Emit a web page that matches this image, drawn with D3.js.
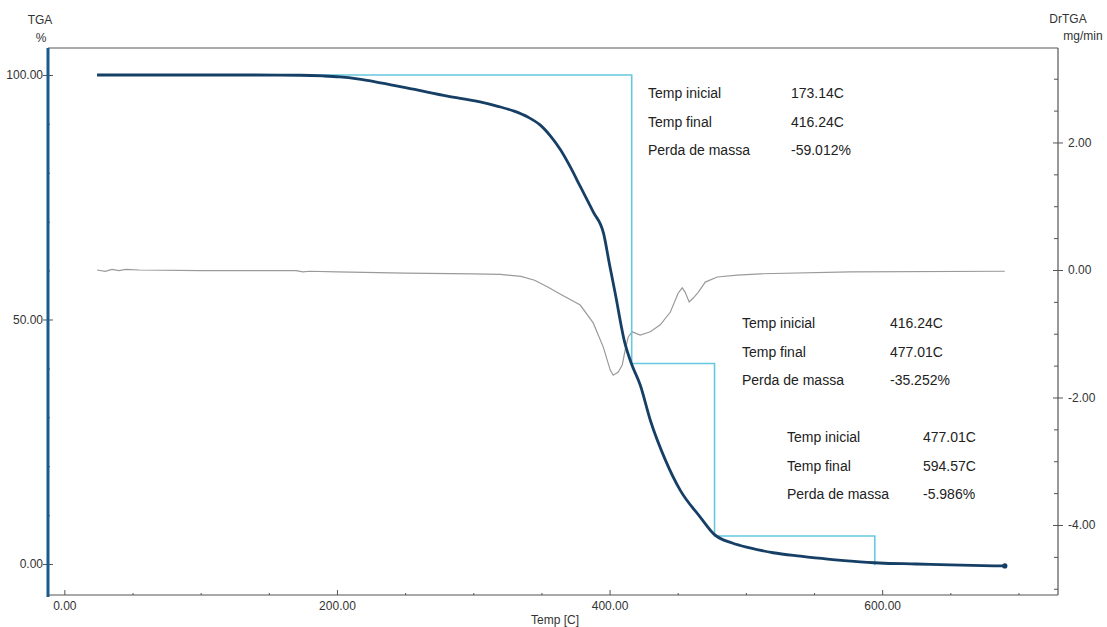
<!DOCTYPE html>
<html>
<head>
<meta charset="utf-8">
<script src="https://cdn.jsdelivr.net/npm/d3@7"></script>
<style>
  html, body { margin: 0; padding: 0; background: #fff; }
  svg { display: block; font-family: "Liberation Sans", Arial, sans-serif; }
</style>
</head>
<body>
<svg id="chart" width="1107" height="627"></svg>
<script>
// ---- TGA curve: temperature (°C) and residual mass (%) ----
const tgaTemp = [24, 60, 100, 140, 173, 190, 202, 215, 232, 256, 281, 305, 318, 330, 340,
                 349, 357, 364, 371, 378.5, 388, 395.6, 400, 404.1, 411.2, 416, 422.5, 429.9,
                 440.9, 451.8, 466.5, 477, 490, 503, 520, 540, 560, 577, 598, 625, 650, 690];
const tgaMass = [100, 100, 100, 100, 99.95, 99.8, 99.6, 99.2, 98.4, 97.1, 95.7, 94.5, 93.6, 92.6, 91.4,
                 89.8, 87.4, 84.7, 81.3, 77.2, 72.0, 67.6, 61.2, 55.4, 45.2, 41.0, 36.6, 29.4,
                 21.3, 15.1, 9.6, 6.0, 4.3, 3.3, 2.3, 1.6, 1.0, 0.6, 0.2, 0.0, -0.2, -0.4];

// ---- DrTGA curve: temperature (°C) and mass-loss rate (mg/min) ----
const drTemp = [24, 30, 35, 40, 45, 55, 100, 170, 175, 180, 200, 250, 300, 320, 335, 345, 355,
                364, 378.5, 388, 395.4, 400.5, 402.7, 406.4, 409.3, 411.5, 413.7, 416.6, 422.5,
                429.9, 437.2, 444.6, 450.4, 453.3, 455.5, 458.4, 461.4, 465, 470.2, 479, 493.7,
                510.5, 576.5, 690];
const drRate = [0.00, -0.02, 0.01, -0.01, 0.01, 0.00, -0.01, -0.01, -0.03, -0.02, -0.03, -0.05,
                -0.06, -0.07, -0.10, -0.16, -0.27, -0.38, -0.55, -0.83, -1.21, -1.57, -1.65,
                -1.60, -1.49, -1.25, -1.05, -0.97, -1.02, -0.97, -0.86, -0.66, -0.36, -0.28,
                -0.35, -0.50, -0.44, -0.35, -0.19, -0.11, -0.08, -0.06, -0.03, -0.02];

// ---- Mass-loss steps ----
const stepStart = [173.14, 416.24, 477.01];
const stepEnd   = [416.24, 477.01, 594.57];
const stepLoss  = [59.012, 35.252, 5.986];

// ---- Axis tick values ----
const xTickValues     = [0, 200, 400, 600];
const leftTickValues  = [0, 50, 100];
const rightTickValues = [-4, -2, 0, 2];

// ---- Layout ----
const plotLeft = 48, plotRight = 1058, plotTop = 48, plotBottom = 595;
const svg = d3.select("#chart");
// plain hyphen-minus for negative numbers
const fmt2 = d => (+d).toFixed(2);
const fmt3 = d => (+d).toFixed(3);

const x  = d3.scaleLinear().domain([-12, 729]).range([plotLeft, plotRight]);
const yL = d3.scaleLinear().domain([-6.34, 105.52]).range([plotBottom, plotTop]);
const yR = d3.scaleLinear().domain([-5.098, 3.482]).range([plotBottom, plotTop]);

const axisColor = "#555";
const labelColor = "#333";

function styleAxis(g, fontSize) {
  g.selectAll("path.domain").remove();
  g.selectAll(".tick line").attr("stroke", axisColor).attr("stroke-width", 1);
  g.selectAll(".tick text").attr("fill", labelColor).attr("font-size", fontSize)
    .attr("font-family", "\"Liberation Sans\", Arial, sans-serif");
}

// frame: top and bottom edges, right axis line
svg.append("line").attr("x1", plotLeft).attr("x2", plotRight).attr("y1", plotTop).attr("y2", plotTop)
  .attr("stroke", axisColor).attr("stroke-width", 1);
svg.append("line").attr("x1", plotLeft).attr("x2", plotRight).attr("y1", plotBottom).attr("y2", plotBottom)
  .attr("stroke", axisColor).attr("stroke-width", 1.2);
svg.append("line").attr("x1", plotRight).attr("x2", plotRight).attr("y1", plotTop).attr("y2", plotBottom)
  .attr("stroke", axisColor).attr("stroke-width", 1.2);

// bottom axis
const gx = svg.append("g").attr("transform", `translate(0,${plotBottom})`)
  .call(d3.axisBottom(x).tickValues(xTickValues).tickFormat(fmt2)
    .tickSizeInner(-5).tickSizeOuter(0).tickPadding(6));
styleAxis(gx, 12);
const gxm = svg.append("g").attr("transform", `translate(0,${plotBottom})`)
  .call(d3.axisBottom(x).tickValues(d3.range(50, 729, 50).filter(v => v % 200 !== 0))
    .tickFormat("").tickSizeInner(-2).tickSizeOuter(0));
styleAxis(gxm, 12);

// left axis
const gy = svg.append("g").attr("transform", `translate(${plotLeft},0)`)
  .call(d3.axisLeft(yL).tickValues(leftTickValues).tickFormat(fmt2)
    .tickSizeInner(-5).tickSizeOuter(0).tickPadding(5));
styleAxis(gy, 12);
gy.selectAll(".tick line").attr("x1", -5).attr("x2", 5);
const gym = svg.append("g").attr("transform", `translate(${plotLeft},0)`)
  .call(d3.axisLeft(yL).tickValues(d3.range(10, 100, 10).filter(v => v !== 50))
    .tickFormat("").tickSizeInner(-2).tickSizeOuter(0));
styleAxis(gym, 12);

// right axis
const gr = svg.append("g").attr("transform", `translate(${plotRight},0)`)
  .call(d3.axisRight(yR).tickValues(rightTickValues).tickFormat(fmt2)
    .tickSizeInner(-5).tickSizeOuter(0).tickPadding(10));
styleAxis(gr, 12);
gr.selectAll(".tick line").attr("x1", -5).attr("x2", 5);
const grm = svg.append("g").attr("transform", `translate(${plotRight},0)`)
  .call(d3.axisRight(yR).tickValues(d3.range(-5, 3.5, 0.5).filter(v => v % 2 !== 0))
    .tickFormat("").tickSizeInner(-4).tickSizeOuter(0));
styleAxis(grm, 12);

// axis titles
const title = (tx, ty, txt, anchor) => svg.append("text").attr("x", tx).attr("y", ty)
  .attr("text-anchor", anchor || "middle").attr("font-size", 12).attr("fill", labelColor).text(txt);
title(40, 24, "TGA");
title(41, 42, "%");
title(1068, 23, "DrTGA");
title(1083, 40, "mg/min");
title(555, 624, "Temp [C]");

// DrTGA curve
const drData = drTemp.map((t, i) => [t, drRate[i]]);
svg.append("path").datum(drData)
  .attr("fill", "none").attr("stroke", "#9a9a9a").attr("stroke-width", 1.2)
  .attr("d", d3.line().x(d => x(d[0])).y(d => yR(d[1])));

// step line built from the mass-loss steps
let level = 100;
const stepPts = [[stepStart[0], level]];
stepEnd.forEach((e, i) => {
  stepPts.push([e, level]);
  level -= stepLoss[i];
  stepPts.push([e, level]);
});
svg.append("path").datum(stepPts)
  .attr("fill", "none").attr("stroke", "#66c8df").attr("stroke-width", 1.6)
  .attr("d", d3.line().x(d => x(d[0])).y(d => yL(d[1])));

// TGA curve
const tgaData = tgaTemp.map((t, i) => [t, tgaMass[i]]);
svg.append("path").datum(tgaData)
  .attr("fill", "none").attr("stroke", "#163f66").attr("stroke-width", 2.8)
  .attr("stroke-linejoin", "round")
  .attr("d", d3.line().curve(d3.curveMonotoneX).x(d => x(d[0])).y(d => yL(d[1])));
const last = tgaData[tgaData.length - 1];
svg.append("circle").attr("cx", x(last[0])).attr("cy", yL(last[1])).attr("r", 2.6)
  .attr("fill", "#163f66");

// left axis line (coloured like the TGA series)
svg.append("line").attr("x1", plotLeft).attr("x2", plotLeft).attr("y1", plotTop).attr("y2", plotBottom + 2)
  .attr("stroke", "#1a5a8c").attr("stroke-width", 3);

// step annotations
const blockLabelX = [648, 742, 787];
const blockValueX = [791, 890, 923];
const blockY = [98, 328, 442];
const rowGap = 28.5;
stepStart.forEach((s, i) => {
  const rows = [
    ["Temp inicial", fmt2(s) + "C"],
    ["Temp final", fmt2(stepEnd[i]) + "C"],
    ["Perda de massa", fmt3(-stepLoss[i]) + "%"]
  ];
  rows.forEach((r, j) => {
    const yy = blockY[i] + j * rowGap;
    svg.append("text").attr("x", blockLabelX[i]).attr("y", yy)
      .attr("font-size", 14).attr("fill", "#222").text(r[0]);
    svg.append("text").attr("x", blockValueX[i]).attr("y", yy)
      .attr("font-size", 14).attr("fill", "#222").text(r[1]);
  });
});
</script>
</body>
</html>
